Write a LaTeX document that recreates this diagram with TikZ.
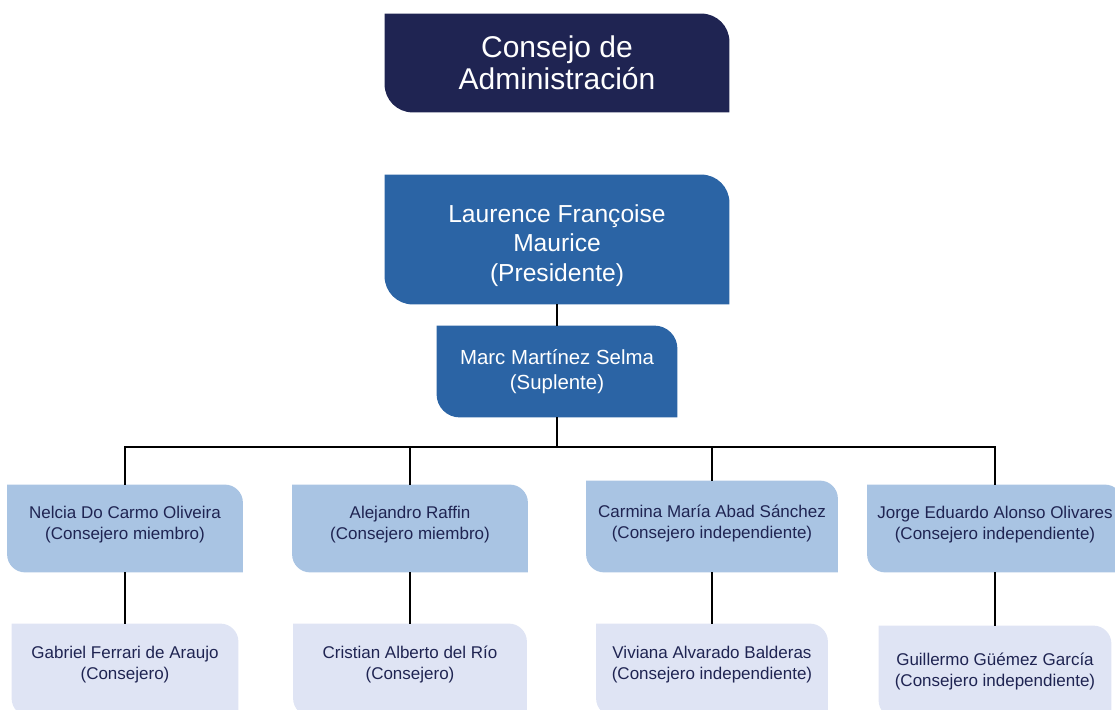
\documentclass[tikz,border=0pt]{standalone}
\usepackage{fontspec}
\setmainfont{Liberation Sans}
\usetikzlibrary{backgrounds,calc}
\definecolor{Navy}{HTML}{1F2452}
\definecolor{Blue}{HTML}{2B64A5}
\definecolor{BlueLight}{HTML}{A9C4E3}
\definecolor{BluePale}{HTML}{DFE4F4}
% invisible struts to lift or drop the text inside a box
\newcommand\dropstrut[1]{\rule[-#1]{0pt}{#1}}
\newcommand\tallstrut[1]{\rule{0pt}{#1}}

\begin{document}
\begin{tikzpicture}[x=.5pt,y=-.5pt,
    orgbox/.style={inner sep=0pt,align=center},
    headbox/.style={orgbox,text=white},
    memberbox/.style={orgbox,text=Navy,font=\fontsize{8.5}{10.5}\selectfont,minimum height=43.5pt},
    subbox/.style={memberbox,minimum height=46pt},
    link/.style={line width=1pt,black}]
  \useasboundingbox (0,0) rectangle (1115,710);
  % top of the chart
  \node[headbox,minimum width=172pt,minimum height=49pt,font=\fontsize{15}{16}\selectfont] (board) at (557,63) {Consejo de\\Administración};
  \node[headbox,minimum width=172pt,minimum height=64.5pt,font=\fontsize{12.3}{14.75}\selectfont] (pres) at (557,239.5) {\tallstrut{15pt}Laurence Françoise\\Maurice\\(Presidente)};
  \node[headbox,minimum width=120pt,minimum height=45.5pt,font=\fontsize{10.2}{12.5}\selectfont] (supl) at (557,371.5) {Marc Martínez Selma\\(Suplente)};
  % members
  \node[memberbox,minimum width=117.5pt] (nelcia) at (125,528.5) {Nelcia Do Carmo Oliveira\\(Consejero miembro)\dropstrut{5.8pt}};
  \node[memberbox,minimum width=117.5pt] (raffin) at (410,528.5) {Alejandro Raffin\\(Consejero miembro)\dropstrut{5.8pt}};
  \node[memberbox,minimum width=125.5pt,minimum height=45.5pt] (carmina) at (712,526.5) {Carmina María Abad Sánchez\\(Consejero independiente)\dropstrut{4.5pt}};
  \node[memberbox,minimum width=127.5pt] (jorge) at (995,528.5) {Jorge Eduardo Alonso Olivares\\(Consejero independiente)\dropstrut{5.8pt}};
  \node[subbox,minimum width=113pt] (gabriel) at (125,670) {Gabriel Ferrari de Araujo\\(Consejero)\dropstrut{6.8pt}};
  \node[subbox,minimum width=116.5pt] (cristian) at (410,670) {Cristian Alberto del Río\\(Consejero)\dropstrut{6.8pt}};
  \node[subbox,minimum width=115.5pt] (viviana) at (712,670) {Viviana Alvarado Balderas\\(Consejero independiente)\dropstrut{6.8pt}};
  \node[subbox,minimum width=116pt] (guillermo) at (995,672) {Guillermo Güémez García\\(Consejero independiente)};
  % boxes with two round corners
  \begin{scope}[on background layer]
    \foreach \n/\c/\r in {board/Navy/14,pres/Blue/14,supl/Blue/11.5,nelcia/BlueLight/9,raffin/BlueLight/9,
        carmina/BlueLight/9,jorge/BlueLight/9,gabriel/BluePale/9,cristian/BluePale/9,viviana/BluePale/9,guillermo/BluePale/9}
      \fill[\c](\n.north west)--([xshift=-\r pt]\n.north east)arc[start angle=90,end angle=0,radius=\r pt]
        --(\n.south east)--([xshift=\r pt]\n.south west)arc[start angle=270,end angle=180,radius=\r pt]--cycle;
  \end{scope}
  % connectors
  \coordinate (bus) at (557,447);
  \draw[link] (pres.south)--(supl.north);
  \draw[link] (supl.south)--(bus);
  \draw[link] (nelcia.north)|-(bus)-|(jorge.north);
  \foreach \a in {raffin,carmina}
    \draw[link] (\a.north)--(\a.north|-bus);
  \foreach \a/\b in {nelcia/gabriel,raffin/cristian,carmina/viviana,jorge/guillermo}
    \draw[link] (\a.south)--(\b.north);
\end{tikzpicture}
\end{document}
